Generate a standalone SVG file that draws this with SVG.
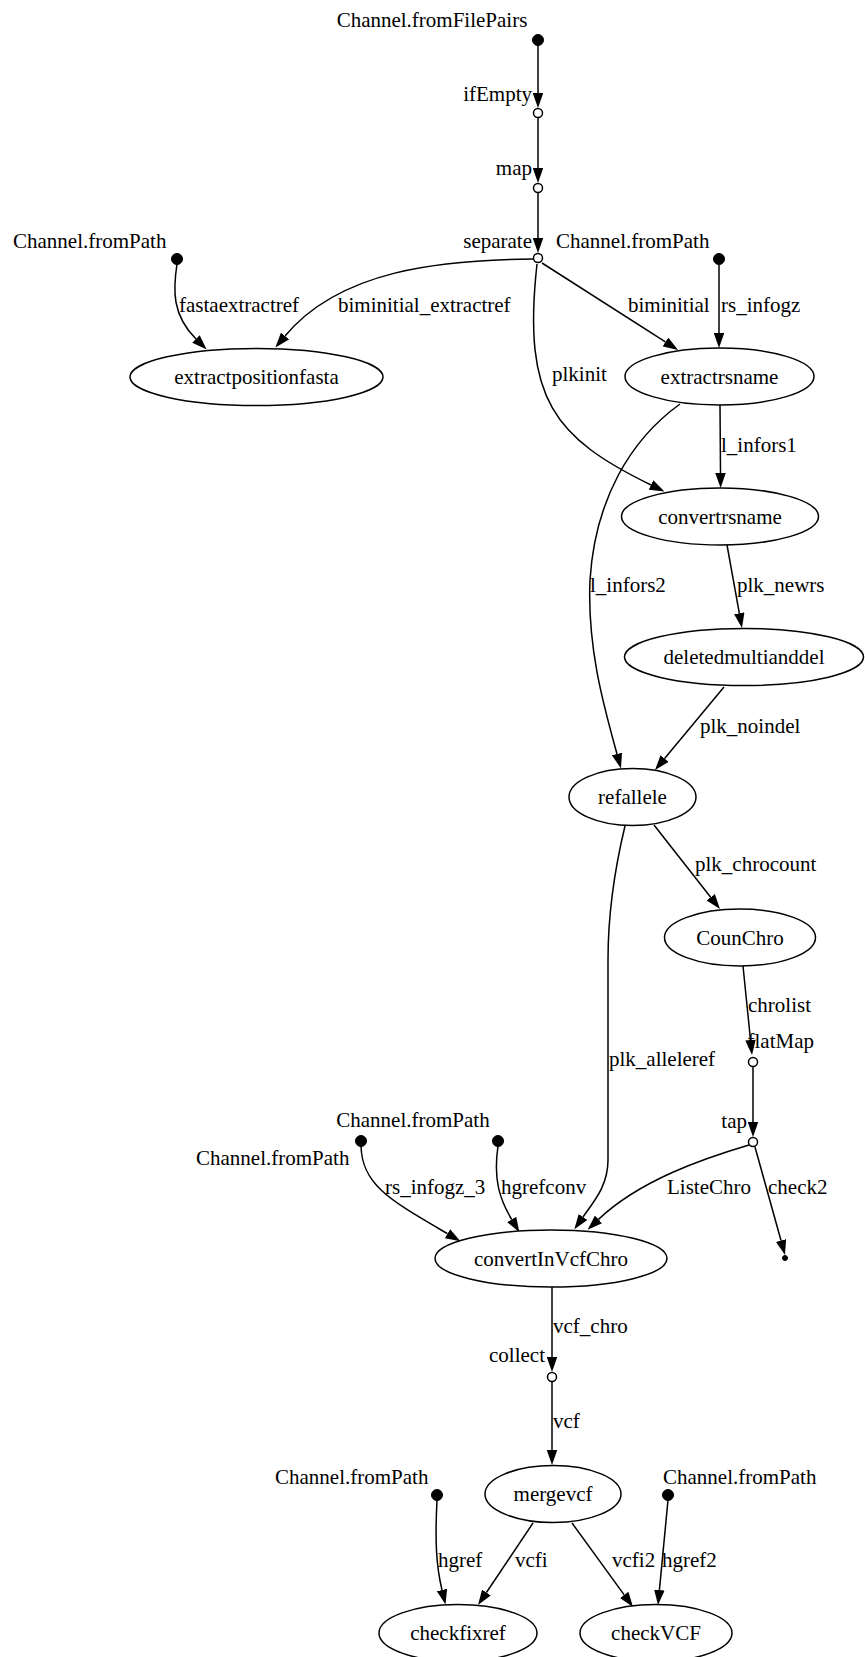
<svg xmlns="http://www.w3.org/2000/svg" width="865" height="1657" viewBox="0 0 865 1657">
  <style>
    text { font-family: "Liberation Serif", "Times New Roman", serif; font-size: 21px; fill: #000; }
    .proc { fill: #fff; stroke: #000; stroke-width: 1.5; }
    .op { fill: #fff; stroke: #000; stroke-width: 1.5; }
    .src { fill: #000; stroke: #000; stroke-width: 1; }
    .edge { fill: none; stroke: #000; stroke-width: 1.5; marker-end: url(#arrow); }
    .mid { text-anchor: middle; }
    .end { text-anchor: end; }
  </style>
  <defs>
    <marker id="arrow" viewBox="0 0 15 10.5" refX="0" refY="5.25" markerWidth="15" markerHeight="10.5" markerUnits="userSpaceOnUse" orient="auto">
      <path d="M0,0 L15,5.25 L0,10.5 z" fill="#000"/>
    </marker>
  </defs>

  <!-- connectors -->
  <g id="edges">
    <path class="edge" d="M538,45 L538,93"/>
    <path class="edge" d="M538,118 L538,168"/>
    <path class="edge" d="M538,193 L538,238"/>
    <path class="edge" d="M177,264 C173,290 172,315 196,339"/>
    <path class="edge" d="M533,259 C440,260 340,270 285,336"/>
    <path class="edge" d="M542,263 L665.4,341.9"/>
    <path class="edge" d="M719,264 L719,333"/>
    <path class="edge" d="M537,264 C522,400 555,438 651,485"/>
    <path class="edge" d="M720,405 L720.5,473"/>
    <path class="edge" d="M680,404 C630,440 595,500 590,580 C587,650 605,710 617,754"/>
    <path class="edge" d="M727,545 L739.3,613.2"/>
    <path class="edge" d="M724,687 L664.6,758.5"/>
    <path class="edge" d="M654,825 L710.7,897.2"/>
    <path class="edge" d="M743,966 L750.5,1040"/>
    <path class="edge" d="M753,1067 L753,1122"/>
    <path class="edge" d="M625,826 C612,880 608,920 608,960 L608,1160 C608,1185 595,1200 583,1217"/>
    <path class="edge" d="M749,1145 C705,1158 640,1180 598.5,1219.4"/>
    <path class="edge" d="M755,1147 L781,1240.5"/>
    <path class="edge" d="M361,1146 C362,1185 390,1200 447.5,1233.7"/>
    <path class="edge" d="M498,1146 C493,1180 500,1200 511.7,1219.5"/>
    <path class="edge" d="M552,1287 L552,1357"/>
    <path class="edge" d="M552,1382 L552,1450"/>
    <path class="edge" d="M437,1500 C435,1540 436,1565 442,1590"/>
    <path class="edge" d="M533,1523 L486.4,1592.5"/>
    <path class="edge" d="M572,1523 L624.2,1594.9"/>
    <path class="edge" d="M668,1500 L659.4,1590.1"/>

    <!-- connector labels -->
    <text x="179" y="312">fastaextractref</text>
    <text x="338" y="312">biminitial_extractref</text>
    <text x="628" y="312">biminitial</text>
    <text x="721" y="312">rs_infogz</text>
    <text x="552" y="381">plkinit</text>
    <text x="721" y="452">l_infors1</text>
    <text x="590" y="592">l_infors2</text>
    <text x="737" y="592">plk_newrs</text>
    <text x="700" y="733">plk_noindel</text>
    <text x="695" y="871">plk_chrocount</text>
    <text x="748" y="1012">chrolist</text>
    <text x="609" y="1066">plk_alleleref</text>
    <text x="385" y="1194">rs_infogz_3</text>
    <text x="501" y="1194">hgrefconv</text>
    <text x="667" y="1194">ListeChro</text>
    <text x="768" y="1194">check2</text>
    <text x="553" y="1333">vcf_chro</text>
    <text x="553" y="1428">vcf</text>
    <text x="438" y="1567">hgref</text>
    <text x="515" y="1567">vcfi</text>
    <text x="612" y="1567">vcfi2</text>
    <text x="662" y="1567">hgref2</text>
  </g>

  <!-- channel sources -->
  <g id="src_filepairs"><circle class="src" cx="538" cy="40" r="5.5"/><text class="mid" x="432" y="27">Channel.fromFilePairs</text></g>
  <g id="src_fasta"><circle class="src" cx="177" cy="259" r="5.5"/><text x="13" y="248">Channel.fromPath</text></g>
  <g id="src_rsinfo"><circle class="src" cx="719" cy="259" r="5.5"/><text x="556" y="248">Channel.fromPath</text></g>
  <g id="src_rsinfo3"><circle class="src" cx="361" cy="1141" r="5.5"/><text x="196" y="1165">Channel.fromPath</text></g>
  <g id="src_hgrefconv"><circle class="src" cx="498" cy="1141" r="5.5"/><text class="mid" x="413" y="1127">Channel.fromPath</text></g>
  <g id="src_hgref"><circle class="src" cx="437" cy="1495" r="5.5"/><text x="275" y="1484">Channel.fromPath</text></g>
  <g id="src_hgref2"><circle class="src" cx="668" cy="1495" r="5.5"/><text x="663" y="1484">Channel.fromPath</text></g>

  <!-- channel operators -->
  <g id="op_ifEmpty"><circle class="op" cx="538" cy="113" r="4.5"/><text class="end" x="532" y="101">ifEmpty</text></g>
  <g id="op_map"><circle class="op" cx="538" cy="188" r="4.5"/><text class="end" x="532" y="175">map</text></g>
  <g id="op_separate"><circle class="op" cx="538" cy="258" r="4.5"/><text class="end" x="532" y="248">separate</text></g>
  <g id="op_flatMap"><circle class="op" cx="753" cy="1062" r="4.5"/><text class="end" x="814" y="1048">flatMap</text></g>
  <g id="op_tap"><circle class="op" cx="753" cy="1142" r="4.5"/><text class="end" x="747" y="1128">tap</text></g>
  <g id="op_collect"><circle class="op" cx="552" cy="1377" r="4.5"/><text class="end" x="545" y="1362">collect</text></g>
  <g id="sink_check2"><circle class="src" cx="785" cy="1258" r="2.5"/></g>

  <!-- processes -->
  <g id="extractpositionfasta"><ellipse class="proc" cx="256.5" cy="377" rx="126.5" ry="28.5"/><text class="mid" x="256.5" y="384">extractpositionfasta</text></g>
  <g id="extractrsname"><ellipse class="proc" cx="719.5" cy="376.5" rx="94.5" ry="28.5"/><text class="mid" x="719.5" y="383.5">extractrsname</text></g>
  <g id="convertrsname"><ellipse class="proc" cx="720" cy="516.5" rx="98.5" ry="28.5"/><text class="mid" x="720" y="523.5">convertrsname</text></g>
  <g id="deletedmultianddel"><ellipse class="proc" cx="744" cy="657" rx="119.5" ry="28.5"/><text class="mid" x="744" y="664">deletedmultianddel</text></g>
  <g id="refallele"><ellipse class="proc" cx="632.5" cy="797" rx="63.5" ry="28.5"/><text class="mid" x="632.5" y="804">refallele</text></g>
  <g id="CounChro"><ellipse class="proc" cx="740" cy="937.5" rx="75.5" ry="28.5"/><text class="mid" x="740" y="944.5">CounChro</text></g>
  <g id="convertInVcfChro"><ellipse class="proc" cx="551" cy="1258.5" rx="116" ry="28.5"/><text class="mid" x="551" y="1265.5">convertInVcfChro</text></g>
  <g id="mergevcf"><ellipse class="proc" cx="553" cy="1494" rx="68" ry="28.5"/><text class="mid" x="553" y="1501">mergevcf</text></g>
  <g id="checkfixref"><ellipse class="proc" cx="458" cy="1633" rx="79" ry="28.5"/><text class="mid" x="458" y="1640">checkfixref</text></g>
  <g id="checkVCF"><ellipse class="proc" cx="656" cy="1633" rx="76" ry="28.5"/><text class="mid" x="656" y="1640">checkVCF</text></g>
</svg>
